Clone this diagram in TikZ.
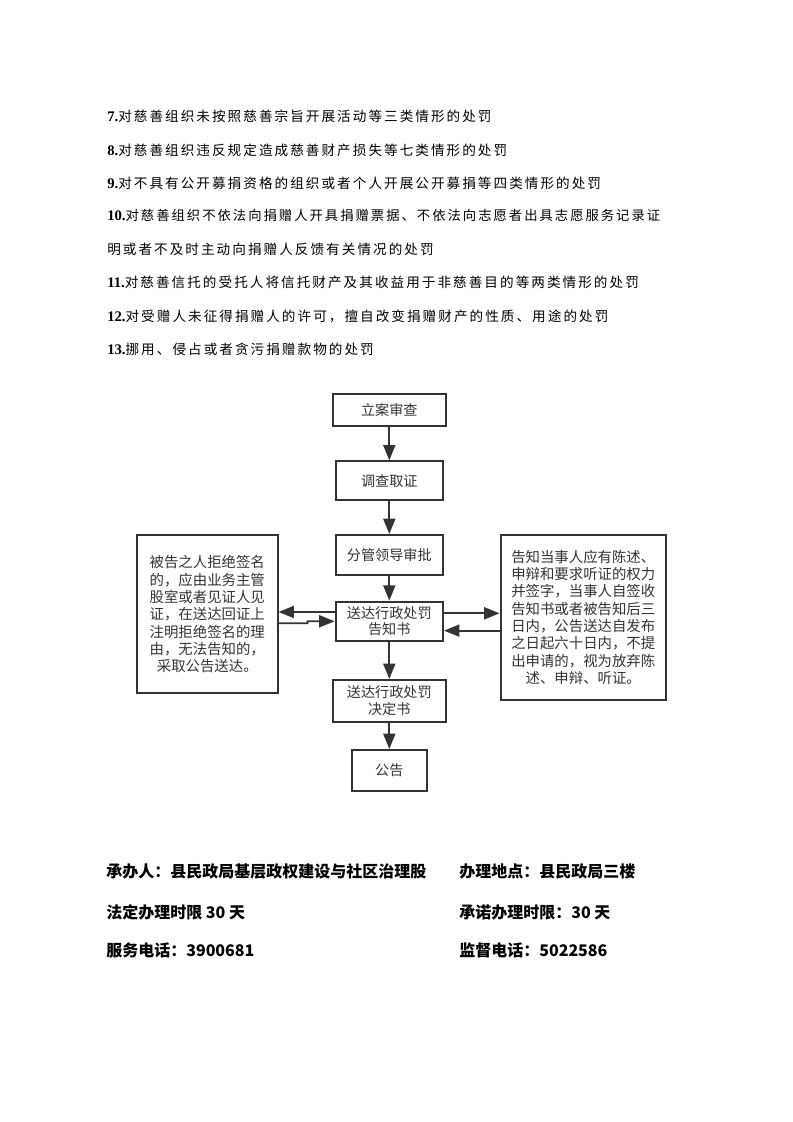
\documentclass[tikz,border=0pt]{standalone}
\usepackage{fontspec}
\setmainfont{Liberation Serif}
\newfontfamily\cjk{Noto Sans CJK SC}
\newfontfamily\cjkls{Noto Sans CJK SC}[LetterSpace=15]
\usetikzlibrary{arrows.meta}
\definecolor{ink}{HTML}{333333}
\tikzset{
  box/.style={draw=ink, line width=1.5pt, fill=white, inner sep=0pt, text=ink, align=center,
              font=\cjk\fontsize{10.6}{12.5}\selectfont},
  sidebox/.style={box, font=\cjk\fontsize{10.8}{13}\selectfont},
  flow/.style={draw=ink, line width=1.3pt, -{Triangle[length=11.5pt,width=9pt]}},
  item/.style={anchor=west, inner sep=0pt, font=\fontsize{11}{13}\selectfont},
  foot/.style={anchor=west, inner sep=0pt, font=\cjk\bfseries\fontsize{12}{14}\selectfont},
}
\begin{document}
\begin{tikzpicture}[x=0.75pt,y=-0.75pt]
\useasboundingbox (0,0) rectangle (793,1122);
\fill[white] (0,0) rectangle (793,1122);

% list of items
\node[item] (t7)  at (107,116) {\textbf{7.}\cjkls\fontsize{10.2}{12}\selectfont 对慈善组织未按照慈善宗旨开展活动等三类情形的处罚};
\node[item] (t8)  at (107,150) {\textbf{8.}\cjkls\fontsize{10.2}{12}\selectfont 对慈善组织违反规定造成慈善财产损失等七类情形的处罚};
\node[item] (t9)  at (107,183) {\textbf{9.}\cjkls\fontsize{10.2}{12}\selectfont 对不具有公开募捐资格的组织或者个人开展公开募捐等四类情形的处罚};
\node[item] (t10) at (107,215) {\textbf{10.}\cjkls\fontsize{10}{12}\selectfont 对慈善组织不依法向捐赠人开具捐赠票据、不依法向志愿者出具志愿服务记录证};
\node[item] (t10b) at (107,249) {\cjkls\fontsize{10.2}{12}\selectfont 明或者不及时主动向捐赠人反馈有关情况的处罚};
\node[item] (t11) at (107,282) {\textbf{11.}\cjkls\fontsize{10.2}{12}\selectfont 对慈善信托的受托人将信托财产及其收益用于非慈善目的等两类情形的处罚};
\node[item] (t12) at (107,316) {\textbf{12.}\cjkls\fontsize{10.2}{12}\selectfont 对受赠人未征得捐赠人的许可，擅自改变捐赠财产的性质、用途的处罚};
\node[item] (t13) at (107,349) {\textbf{13.}\cjkls\fontsize{10.2}{12}\selectfont 挪用、侵占或者贪污捐赠款物的处罚};

% flowchart
\node[box, minimum width=85.1pt, minimum height=24pt]   (A) at (389.3,410)   {立案审查};
\node[box, minimum width=80.6pt, minimum height=29pt]   (B) at (389.3,480.7) {调查取证};
\node[box, minimum width=80.6pt, minimum height=30pt]   (C) at (389.3,555)   {分管领导审批};
\node[box, minimum width=80.6pt, minimum height=29.5pt] (D) at (389.3,621.3) {送达行政处罚\\告知书};
\node[box, minimum width=84.9pt, minimum height=31.3pt] (E) at (389.3,700.8) {送达行政处罚\\决定书};
\node[box, minimum width=56pt,   minimum height=30.5pt] (F) at (389.3,770.3) {公告};

\node[sidebox, minimum width=105.4pt, minimum height=118.7pt] (L) at (207.25,614.2)
  {被告之人拒绝签名\\的，应由业务主管\\股室或者见证人见\\证，在送达回证上\\注明拒绝签名的理\\由，无法告知的，\\采取公告送达。};
\node[sidebox, minimum width=124.1pt, minimum height=123.4pt] (R) at (583.25,617.25)
  {告知当事人应有陈述、\\申辩和要求听证的权力\\并签字，当事人自签收\\告知书或者被告知后三\\日内，公告送达自发布\\之日起六十日内，不提\\出申请的，视为放弃陈\\述、申辩、听证。};

\draw[flow] (A) -- (B);
\draw[flow] (B) -- (C);
\draw[flow] (C) -- (D);
\draw[flow] (D) -- (E);
\draw[flow] (E) -- (F);

\draw[flow] ([yshift=7pt]D.west) -- ([yshift=7pt]D.west -| L.east);
\draw[flow] ([yshift=-6.8pt]L.east) -- ++(29,0) -- ++(0,-2) -- (D.west);
\draw[flow] ([yshift=6pt]D.east) -- ([yshift=6pt]D.east -| R.west);
\draw[flow] ([yshift=-7pt]D.east -| R.west) -- ([yshift=-7pt]D.east);

% footer
\node[foot] (f1) at (106,871) {承办人：县民政局基层政权建设与社区治理股};
\node[foot] (f2) at (459,871) {办理地点：县民政局三楼};
\node[foot] (f3) at (106,912) {法定办理时限 30 天};
\node[foot] (f4) at (459,912) {承诺办理时限：30 天};
\node[foot] (f5) at (106,950) {服务电话：3900681};
\node[foot] (f6) at (459,950) {监督电话：5022586};
\end{tikzpicture}
\end{document}
